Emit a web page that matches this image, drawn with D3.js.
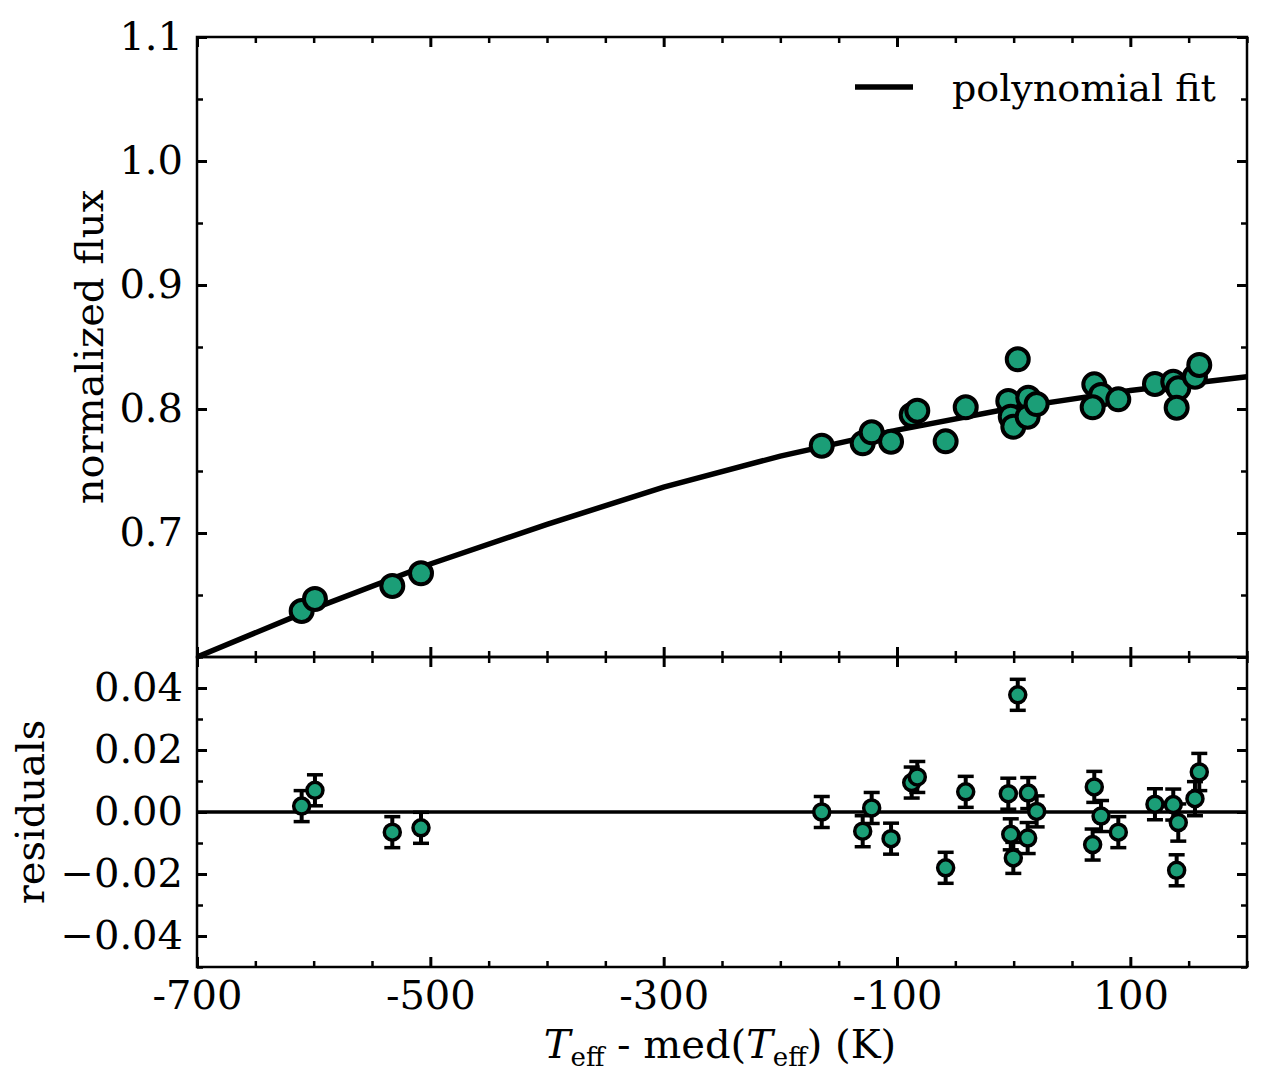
<!DOCTYPE html>
<html>
<head>
<meta charset="utf-8">
<script src="https://d3js.org/d3.v7.min.js"></script>
<style>
    body { margin: 0; background: #fff; }
</style>
</head>
<body>
<svg id="drawing_region"></svg>
<script>
// T_eff - med(T_eff) for each star (K)
const teff = [-610.3, -598.9, -532.6, -508.0, -164.5, -129.4, -121.7, -105.1, -87.4, -82.6,
              -58.3, -41.1, 3.5, -4.6, -2.5, -0.3, 12.5, 12.0, 19.7, 69.1,
              74.9, 67.7, 89.7, 121.1, 136.8, 141.1, 139.7, 155.4, 159.1];
// normalized flux (top panel)
const flux = [0.6371, 0.6468, 0.6573, 0.6675, 0.7704, 0.7723, 0.7812, 0.7736, 0.7952, 0.7986,
              0.7739, 0.8014, 0.8401, 0.8065, 0.7938, 0.7857, 0.8091, 0.7938, 0.8040, 0.8199,
              0.8113, 0.8014, 0.8078, 0.8202, 0.8220, 0.8167, 0.8010, 0.8260, 0.8355];
// residuals (bottom panel) and their errors
const resid = [0.0019, 0.0070, -0.0065, -0.0051, 0.0000, -0.0062, 0.0013, -0.0086, 0.0095, 0.0113,
               -0.0180, 0.0065, 0.0378, 0.0059, -0.0072, -0.0148, 0.0061, -0.0084, 0.0002, 0.0081,
               -0.0013, -0.0105, -0.0065, 0.0025, 0.0024, -0.0034, -0.0188, 0.0043, 0.0129];
const residErr = [0.005, 0.005, 0.005, 0.005, 0.005, 0.005, 0.005, 0.005, 0.005, 0.005,
                  0.005, 0.005, 0.005, 0.005, 0.005, 0.005, 0.005, 0.005, 0.005, 0.005,
                  0.005, 0.005, 0.005, 0.005, 0.005, 0.006, 0.005, 0.0055, 0.006];
// polynomial fit curve
const fitTeff = [-700, -600, -500, -400, -300, -200, -100, 0, 100, 200];
const fitFlux = [0.600, 0.639, 0.675, 0.707, 0.737, 0.762, 0.783, 0.801, 0.815, 0.826];

// ticks
const xMajor = [-700, -500, -300, -100, 100];
const xMinor = [-650, -600, -550, -450, -400, -350, -250, -200, -150, -50, 0, 50, 150, 200];
const yTopMajor = [0.6, 0.7, 0.8, 0.9, 1.0, 1.1];
const yTopMinor = [0.65, 0.75, 0.85, 0.95, 1.05];
const yBotMajor = [-0.04, -0.02, 0, 0.02, 0.04];
const yBotMinor = [-0.05, -0.03, -0.01, 0.01, 0.03, 0.05];

const config = {
    width: 1261,
    height: 1073,
    left: 197, right: 1247,
    top: 37, mid: 657, bottom: 967,
    font: '"DejaVu Serif", serif',
    fontSize: 40,
    color: '#1b9e77'
};

const points = teff.map((t, i) => ({ t: t, f: flux[i], r: resid[i], e: residErr[i] }));
const fit = fitTeff.map((t, i) => ({ t: t, f: fitFlux[i] }));

const svg = d3.select('#drawing_region')
    .attr('width', config.width)
    .attr('height', config.height);

const xscale = d3.scaleLinear().domain([-700, 200]).range([config.left, config.right]);
const ytop = d3.scaleLinear().domain([0.6, 1.1]).range([config.mid, config.top]);
const ybot = d3.scaleLinear().domain([-0.05, 0.05]).range([config.bottom, config.mid]);

function addAxis(axisFn, scale, values, size, fmt, pad, transform, sw) {
    const g = svg.append('g')
        .attr('transform', transform)
        .call(axisFn(scale).tickValues(values).tickSize(-size).tickSizeOuter(0)
            .tickPadding(pad).tickFormat(fmt));
    g.select('.domain').remove();
    g.attr('font-family', config.font).attr('font-size', config.fontSize);
    g.selectAll('.tick line').attr('stroke', '#000').attr('stroke-width', sw);
    g.selectAll('.tick text').attr('fill', '#000');
    return g;
}

const none = () => '';

// ---- top panel ----
svg.append('path')
    .datum(fit)
    .attr('fill', 'none')
    .attr('stroke', '#000')
    .attr('stroke-width', 5.5)
    .attr('d', d3.line().x(d => xscale(d.t)).y(d => ytop(d.f)));

svg.append('g').selectAll('circle')
    .data(points)
    .join('circle')
    .attr('cx', d => xscale(d.t))
    .attr('cy', d => ytop(d.f))
    .attr('r', 11)
    .attr('fill', config.color)
    .attr('stroke', '#000')
    .attr('stroke-width', 4);

addAxis(d3.axisLeft, ytop, yTopMajor.filter(v => v > 0.65), 10, d3.format('.1f'), 14, `translate(${config.left},0)`, 3);
addAxis(d3.axisLeft, ytop, yTopMinor, 6, none, 0, `translate(${config.left},0)`, 2.5);
addAxis(d3.axisRight, ytop, yTopMajor, 10, none, 0, `translate(${config.right},0)`, 3);
addAxis(d3.axisRight, ytop, yTopMinor, 6, none, 0, `translate(${config.right},0)`, 2.5);
addAxis(d3.axisTop, xscale, xMajor, 10, none, 0, `translate(0,${config.top})`, 3);
addAxis(d3.axisTop, xscale, xMinor, 6, none, 0, `translate(0,${config.top})`, 2.5);
addAxis(d3.axisBottom, xscale, xMajor, 10, none, 0, `translate(0,${config.mid})`, 3);
addAxis(d3.axisBottom, xscale, xMinor, 6, none, 0, `translate(0,${config.mid})`, 2.5);

svg.append('rect')
    .attr('x', config.left).attr('y', config.top)
    .attr('width', config.right - config.left)
    .attr('height', config.mid - config.top)
    .attr('fill', 'none').attr('stroke', '#000').attr('stroke-width', 2.5);

// legend
svg.append('line')
    .attr('x1', 855).attr('x2', 913)
    .attr('y1', 87).attr('y2', 87)
    .attr('stroke', '#000').attr('stroke-width', 5.5);
svg.append('text')
    .attr('x', 952).attr('y', 101)
    .attr('font-family', config.font).attr('font-size', 38)
    .text('polynomial fit');

// ---- bottom panel ----
svg.append('line')
    .attr('x1', config.left).attr('x2', config.right)
    .attr('y1', ybot(0)).attr('y2', ybot(0))
    .attr('stroke', '#000').attr('stroke-width', 3.5);

const eb = svg.append('g');
eb.selectAll('line.bar')
    .data(points)
    .join('line')
    .attr('class', 'bar')
    .attr('x1', d => xscale(d.t)).attr('x2', d => xscale(d.t))
    .attr('y1', d => ybot(d.r - d.e)).attr('y2', d => ybot(d.r + d.e))
    .attr('stroke', '#000').attr('stroke-width', 4);
eb.selectAll('line.capLo')
    .data(points)
    .join('line')
    .attr('class', 'capLo')
    .attr('x1', d => xscale(d.t) - 8).attr('x2', d => xscale(d.t) + 8)
    .attr('y1', d => ybot(d.r - d.e)).attr('y2', d => ybot(d.r - d.e))
    .attr('stroke', '#000').attr('stroke-width', 3.5);
eb.selectAll('line.capHi')
    .data(points)
    .join('line')
    .attr('class', 'capHi')
    .attr('x1', d => xscale(d.t) - 8).attr('x2', d => xscale(d.t) + 8)
    .attr('y1', d => ybot(d.r + d.e)).attr('y2', d => ybot(d.r + d.e))
    .attr('stroke', '#000').attr('stroke-width', 3.5);

svg.append('g').selectAll('circle')
    .data(points)
    .join('circle')
    .attr('cx', d => xscale(d.t))
    .attr('cy', d => ybot(d.r))
    .attr('r', 8)
    .attr('fill', config.color)
    .attr('stroke', '#000')
    .attr('stroke-width', 3.5);

addAxis(d3.axisLeft, ybot, yBotMajor, 10, d3.format('.2f'), 14, `translate(${config.left},0)`, 3);
addAxis(d3.axisLeft, ybot, yBotMinor, 6, none, 0, `translate(${config.left},0)`, 2.5);
addAxis(d3.axisRight, ybot, yBotMajor, 10, none, 0, `translate(${config.right},0)`, 3);
addAxis(d3.axisRight, ybot, yBotMinor, 6, none, 0, `translate(${config.right},0)`, 2.5);
addAxis(d3.axisTop, xscale, xMajor, 10, none, 0, `translate(0,${config.mid})`, 3);
addAxis(d3.axisTop, xscale, xMinor, 6, none, 0, `translate(0,${config.mid})`, 2.5);
addAxis(d3.axisBottom, xscale, xMajor, 10, d => String(d), 14, `translate(0,${config.bottom})`, 3);
addAxis(d3.axisBottom, xscale, xMinor, 6, none, 0, `translate(0,${config.bottom})`, 2.5);

svg.append('rect')
    .attr('x', config.left).attr('y', config.mid)
    .attr('width', config.right - config.left)
    .attr('height', config.bottom - config.mid)
    .attr('fill', 'none').attr('stroke', '#000').attr('stroke-width', 2.5);

// ---- axis labels ----
svg.append('text')
    .attr('transform', `translate(103,347) rotate(-90)`)
    .attr('text-anchor', 'middle')
    .attr('font-family', config.font).attr('font-size', config.fontSize)
    .text('normalized flux');

svg.append('text')
    .attr('transform', `translate(44,812) rotate(-90)`)
    .attr('text-anchor', 'middle')
    .attr('font-family', config.font).attr('font-size', config.fontSize)
    .text('residuals');

const xl = svg.append('text')
    .attr('x', 720).attr('y', 1058)
    .attr('text-anchor', 'middle')
    .attr('font-family', config.font).attr('font-size', config.fontSize);
xl.append('tspan').attr('font-style', 'italic').text('T');
xl.append('tspan').attr('font-size', 26).attr('dy', 8).text('eff');
xl.append('tspan').attr('dy', -8).text(' - med(');
xl.append('tspan').attr('font-style', 'italic').text('T');
xl.append('tspan').attr('font-size', 26).attr('dy', 8).text('eff');
xl.append('tspan').attr('dy', -8).text(') (K)');
</script>
</body>
</html>
